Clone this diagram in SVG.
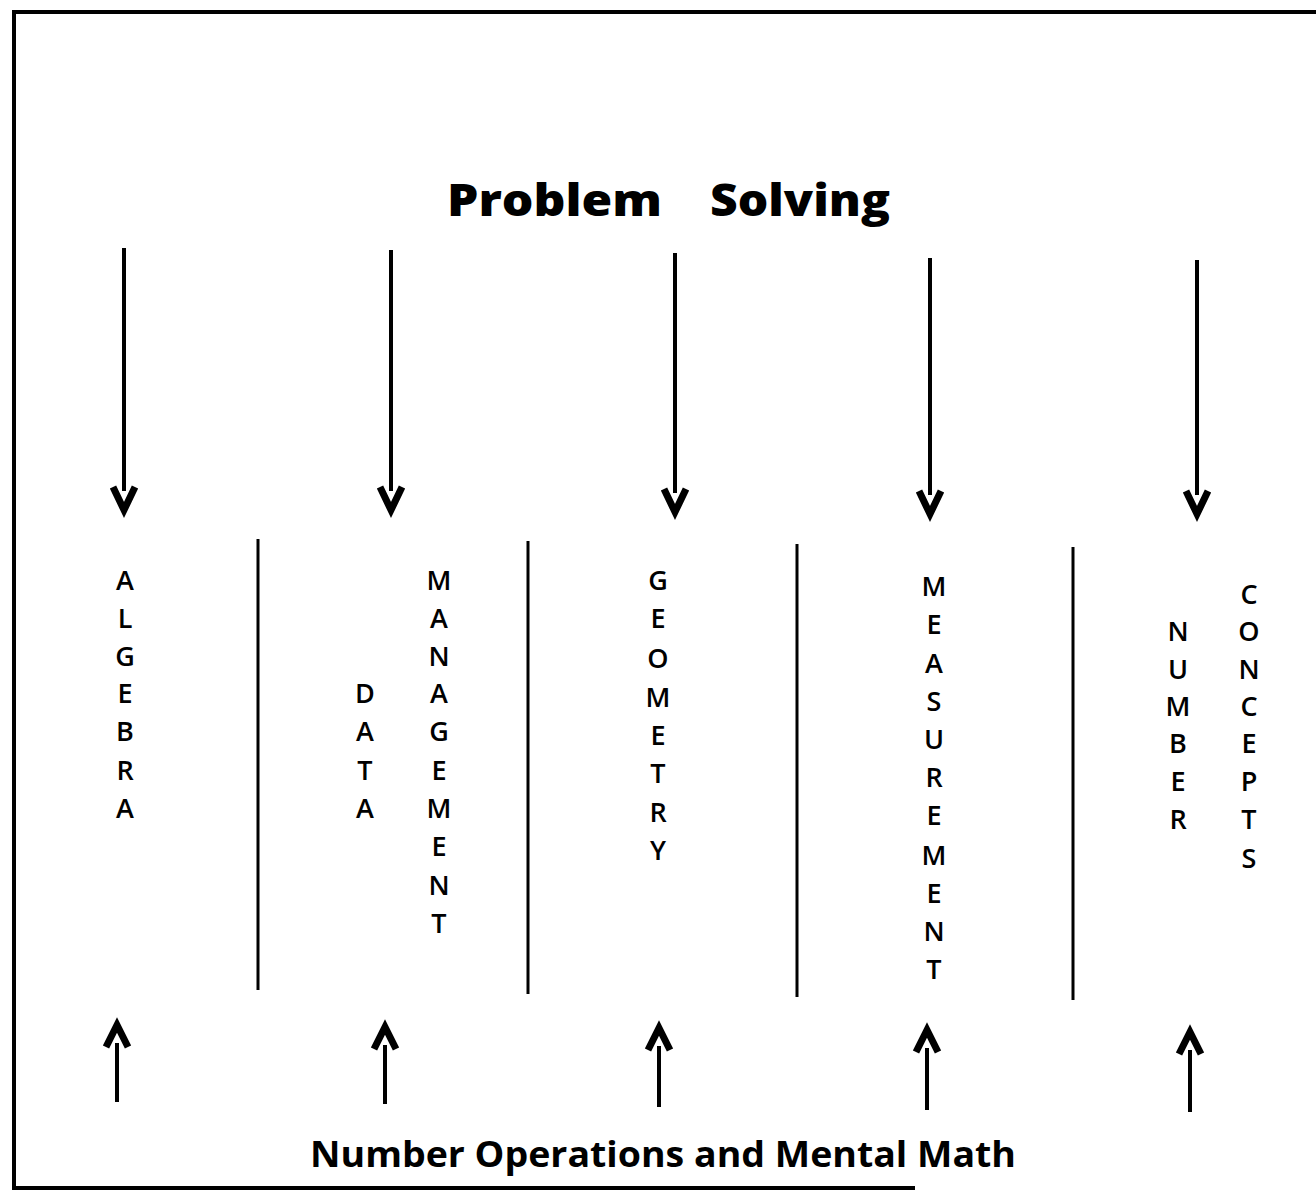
<svg xmlns="http://www.w3.org/2000/svg" width="1316" height="1198" viewBox="0 0 1316 1198">
<style>
.bg{fill:#fff}
.frame{fill:none;stroke:#000;stroke-width:4}
.shaft{fill:none;stroke:#000;stroke-width:4}
.head{fill:none;stroke:#000;stroke-width:7;stroke-linejoin:miter;stroke-linecap:butt}
.div{fill:none;stroke:#000;stroke-width:3}
.title{font-family:"Open Sans","Lato","Liberation Sans",sans-serif;font-weight:800;font-size:45px;fill:#000}
.foot{font-family:"Open Sans","Lato","Liberation Sans",sans-serif;font-weight:bold;font-size:35px;fill:#000}
.col{font-family:"Open Sans","Lato","Liberation Sans",sans-serif;font-weight:600;font-size:27px;fill:#000;text-anchor:middle}
</style>
<rect class="bg" x="0" y="0" width="1316" height="1198"/>
<g id="frame">
<path class="frame" d="M1318 12 H14 V1188 H915"/>
</g>
<g id="title">
<text class="title" x="447" y="216" textLength="215" lengthAdjust="spacingAndGlyphs">Problem</text>
<text class="title" x="710" y="216" textLength="180" lengthAdjust="spacingAndGlyphs">Solving</text>
</g>
<g id="footer">
<text class="foot" x="310" y="1167" textLength="706" lengthAdjust="spacingAndGlyphs">Number Operations and Mental Math</text>
</g>
<g id="connectors">
<path class="shaft" d="M124 248 V491"/>
<path class="head" d="M113 487 L124 510 L135 487"/>
<path class="shaft" d="M391 250 V491"/>
<path class="head" d="M380 487 L391 510 L402 487"/>
<path class="shaft" d="M675 253 V493"/>
<path class="head" d="M664 489 L675 512 L686 489"/>
<path class="shaft" d="M930 258 V495"/>
<path class="head" d="M919 491 L930 514 L941 491"/>
<path class="shaft" d="M1197 260 V495"/>
<path class="head" d="M1186 491 L1197 514 L1208 491"/>
<path class="shaft" d="M117 1043 V1102"/>
<path class="head" d="M106 1047 L117 1025 L128 1047"/>
<path class="shaft" d="M385 1045 V1104"/>
<path class="head" d="M374 1049 L385 1027 L396 1049"/>
<path class="shaft" d="M659 1046 V1107"/>
<path class="head" d="M648 1050 L659 1028 L670 1050"/>
<path class="shaft" d="M927 1048 V1110"/>
<path class="head" d="M916 1052 L927 1030 L938 1052"/>
<path class="shaft" d="M1190 1050 V1112"/>
<path class="head" d="M1179 1054 L1190 1032 L1201 1054"/>
</g>
<g id="dividers">
<path class="div" d="M258 539 V990"/>
<path class="div" d="M528 541 V994"/>
<path class="div" d="M797 544 V997"/>
<path class="div" d="M1073 547 V1000"/>
</g>
<g id="algebra">
<text class="col" x="125" y="590">A</text>
<text class="col" x="125" y="628">L</text>
<text class="col" x="125" y="666">G</text>
<text class="col" x="125" y="703">E</text>
<text class="col" x="125" y="741">B</text>
<text class="col" x="125" y="780">R</text>
<text class="col" x="125" y="818">A</text>
</g>
<g id="data">
<text class="col" x="365" y="703">D</text>
<text class="col" x="365" y="741">A</text>
<text class="col" x="365" y="780">T</text>
<text class="col" x="365" y="818">A</text>
</g>
<g id="management">
<text class="col" x="439" y="590">M</text>
<text class="col" x="439" y="628">A</text>
<text class="col" x="439" y="666">N</text>
<text class="col" x="439" y="703">A</text>
<text class="col" x="439" y="741">G</text>
<text class="col" x="439" y="780">E</text>
<text class="col" x="439" y="818">M</text>
<text class="col" x="439" y="856">E</text>
<text class="col" x="439" y="895">N</text>
<text class="col" x="439" y="933">T</text>
</g>
<g id="geometry">
<text class="col" x="658" y="590">G</text>
<text class="col" x="658" y="628">E</text>
<text class="col" x="658" y="668">O</text>
<text class="col" x="658" y="707">M</text>
<text class="col" x="658" y="745">E</text>
<text class="col" x="658" y="783">T</text>
<text class="col" x="658" y="822">R</text>
<text class="col" x="658" y="860">Y</text>
</g>
<g id="measurement">
<text class="col" x="934" y="596">M</text>
<text class="col" x="934" y="634">E</text>
<text class="col" x="934" y="673">A</text>
<text class="col" x="934" y="711">S</text>
<text class="col" x="934" y="749">U</text>
<text class="col" x="934" y="787">R</text>
<text class="col" x="934" y="825">E</text>
<text class="col" x="934" y="865">M</text>
<text class="col" x="934" y="903">E</text>
<text class="col" x="934" y="941">N</text>
<text class="col" x="934" y="979">T</text>
</g>
<g id="number">
<text class="col" x="1178" y="641">N</text>
<text class="col" x="1178" y="679">U</text>
<text class="col" x="1178" y="716">M</text>
<text class="col" x="1178" y="753">B</text>
<text class="col" x="1178" y="791">E</text>
<text class="col" x="1178" y="829">R</text>
</g>
<g id="concepts">
<text class="col" x="1249" y="604">C</text>
<text class="col" x="1249" y="641">O</text>
<text class="col" x="1249" y="679">N</text>
<text class="col" x="1249" y="716">C</text>
<text class="col" x="1249" y="753">E</text>
<text class="col" x="1249" y="791">P</text>
<text class="col" x="1249" y="829">T</text>
<text class="col" x="1249" y="868">S</text>
</g>
</svg>
